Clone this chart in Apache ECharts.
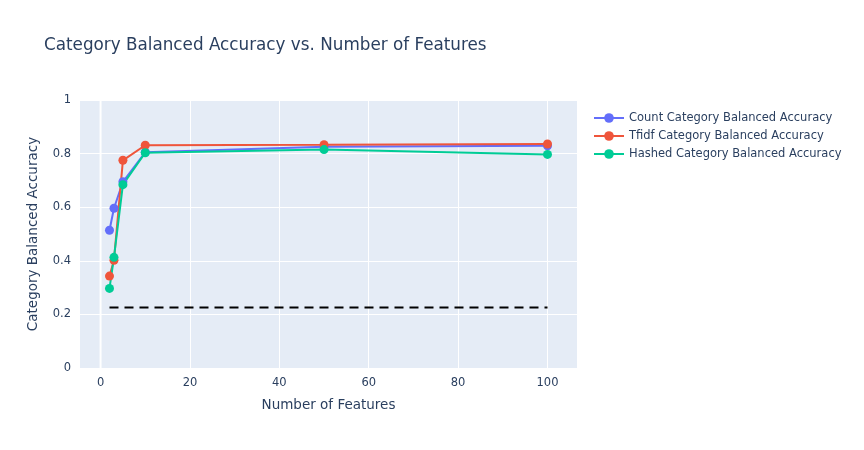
<!DOCTYPE html>
<html>
<head>
<meta charset="utf-8">
<script src="https://cdn.jsdelivr.net/npm/echarts@6/dist/echarts.min.js"></script>
<style>html,body{margin:0;padding:0;background:#fff}#c{width:864px;height:450px}</style>
</head>
<body>
<div id="c"></div>
<script>
const features = [2, 3, 5, 10, 50, 100];
const countAcc = [0.514, 0.596, 0.695, 0.805, 0.826, 0.829];
const tfidfAcc = [0.343, 0.402, 0.775, 0.831, 0.833, 0.836];
const hashedAcc = [0.297, 0.413, 0.684, 0.803, 0.815, 0.797];
const baselineX = [2, 100];
const baselineY = [0.226, 0.226];
const xTicks = [0, 20, 40, 60, 80, 100];
const yTicks = [0, 0.2, 0.4, 0.6, 0.8, 1];
const seriesNames = ['Count Category Balanced Accuracy', 'Tfidf Category Balanced Accuracy', 'Hashed Category Balanced Accuracy'];
const colors = ['#636efa', '#EF553B', '#00cc96'];

const pair = (xs, ys) => xs.map((x, i) => [x, ys[i]]);
const font = 'DejaVu Sans, Verdana, sans-serif';
const txt = '#2a3f5f';

const chart = echarts.init(document.getElementById('c'));
const mk = (name, ys, color) => ({
  name, type: 'line', data: pair(features, ys),
  symbol: 'circle', symbolSize: 9,
  itemStyle: { color },
  lineStyle: { color, width: 2 },
  emphasis: { disabled: true }
});
chart.setOption({
  animation: false,
  backgroundColor: '#fff',
  title: {
    text: 'Category Balanced Accuracy vs. Number of Features',
    left: 39, top: 32,
    textStyle: { fontFamily: font, fontSize: 16.8, fontWeight: 'normal', color: txt }
  },
  legend: {
    orient: 'vertical', left: 588, top: 107, itemGap: 6,
    itemWidth: 30, itemHeight: 12,
    data: seriesNames,
    textStyle: { fontFamily: font, fontSize: 11.5, color: txt }
  },
  grid: { left: 80, right: 287, top: 100, bottom: 82, backgroundColor: '#E5ECF6', show: true, borderWidth: 0 },
  xAxis: {
    type: 'value', min: -4.6, max: 106.6,
    name: 'Number of Features', nameLocation: 'middle', nameGap: 30,
    nameTextStyle: { fontFamily: font, fontSize: 13.5, color: txt },
    axisLine: { show: false }, axisTick: { show: false, customValues: xTicks },
    axisLabel: { customValues: xTicks, fontFamily: font, fontSize: 11.5, color: txt, margin: 9 },
    splitLine: { show: true, lineStyle: { color: '#fff', width: 1 } }
  },
  yAxis: {
    type: 'value', min: 0, max: 1, interval: 0.2,
    name: 'Category Balanced Accuracy', nameLocation: 'middle', nameGap: 40,
    nameTextStyle: { fontFamily: font, fontSize: 13.5, color: txt },
    axisLine: { show: false }, axisTick: { show: false },
    axisLabel: { fontFamily: font, fontSize: 11.5, color: txt, margin: 9, formatter: v => String(+v.toFixed(1)) },
    splitLine: { show: true, lineStyle: { color: '#fff', width: 1 } }
  },
  series: [
    mk(seriesNames[0], countAcc, colors[0]),
    mk(seriesNames[1], tfidfAcc, colors[1]),
    mk(seriesNames[2], hashedAcc, colors[2]),
    {
      name: 'baseline', type: 'line', data: pair(baselineX, baselineY),
      symbol: 'none', lineStyle: { color: '#000', width: 2, type: [9, 6] },
      emphasis: { disabled: true }
    },
    {
      name: 'zeroline', type: 'line', data: [[0, 0], [0, 1]], symbol: 'none', silent: true,
      lineStyle: { color: '#fff', width: 2 }, z: 1
    }
  ]
});
</script>
</body>
</html>
